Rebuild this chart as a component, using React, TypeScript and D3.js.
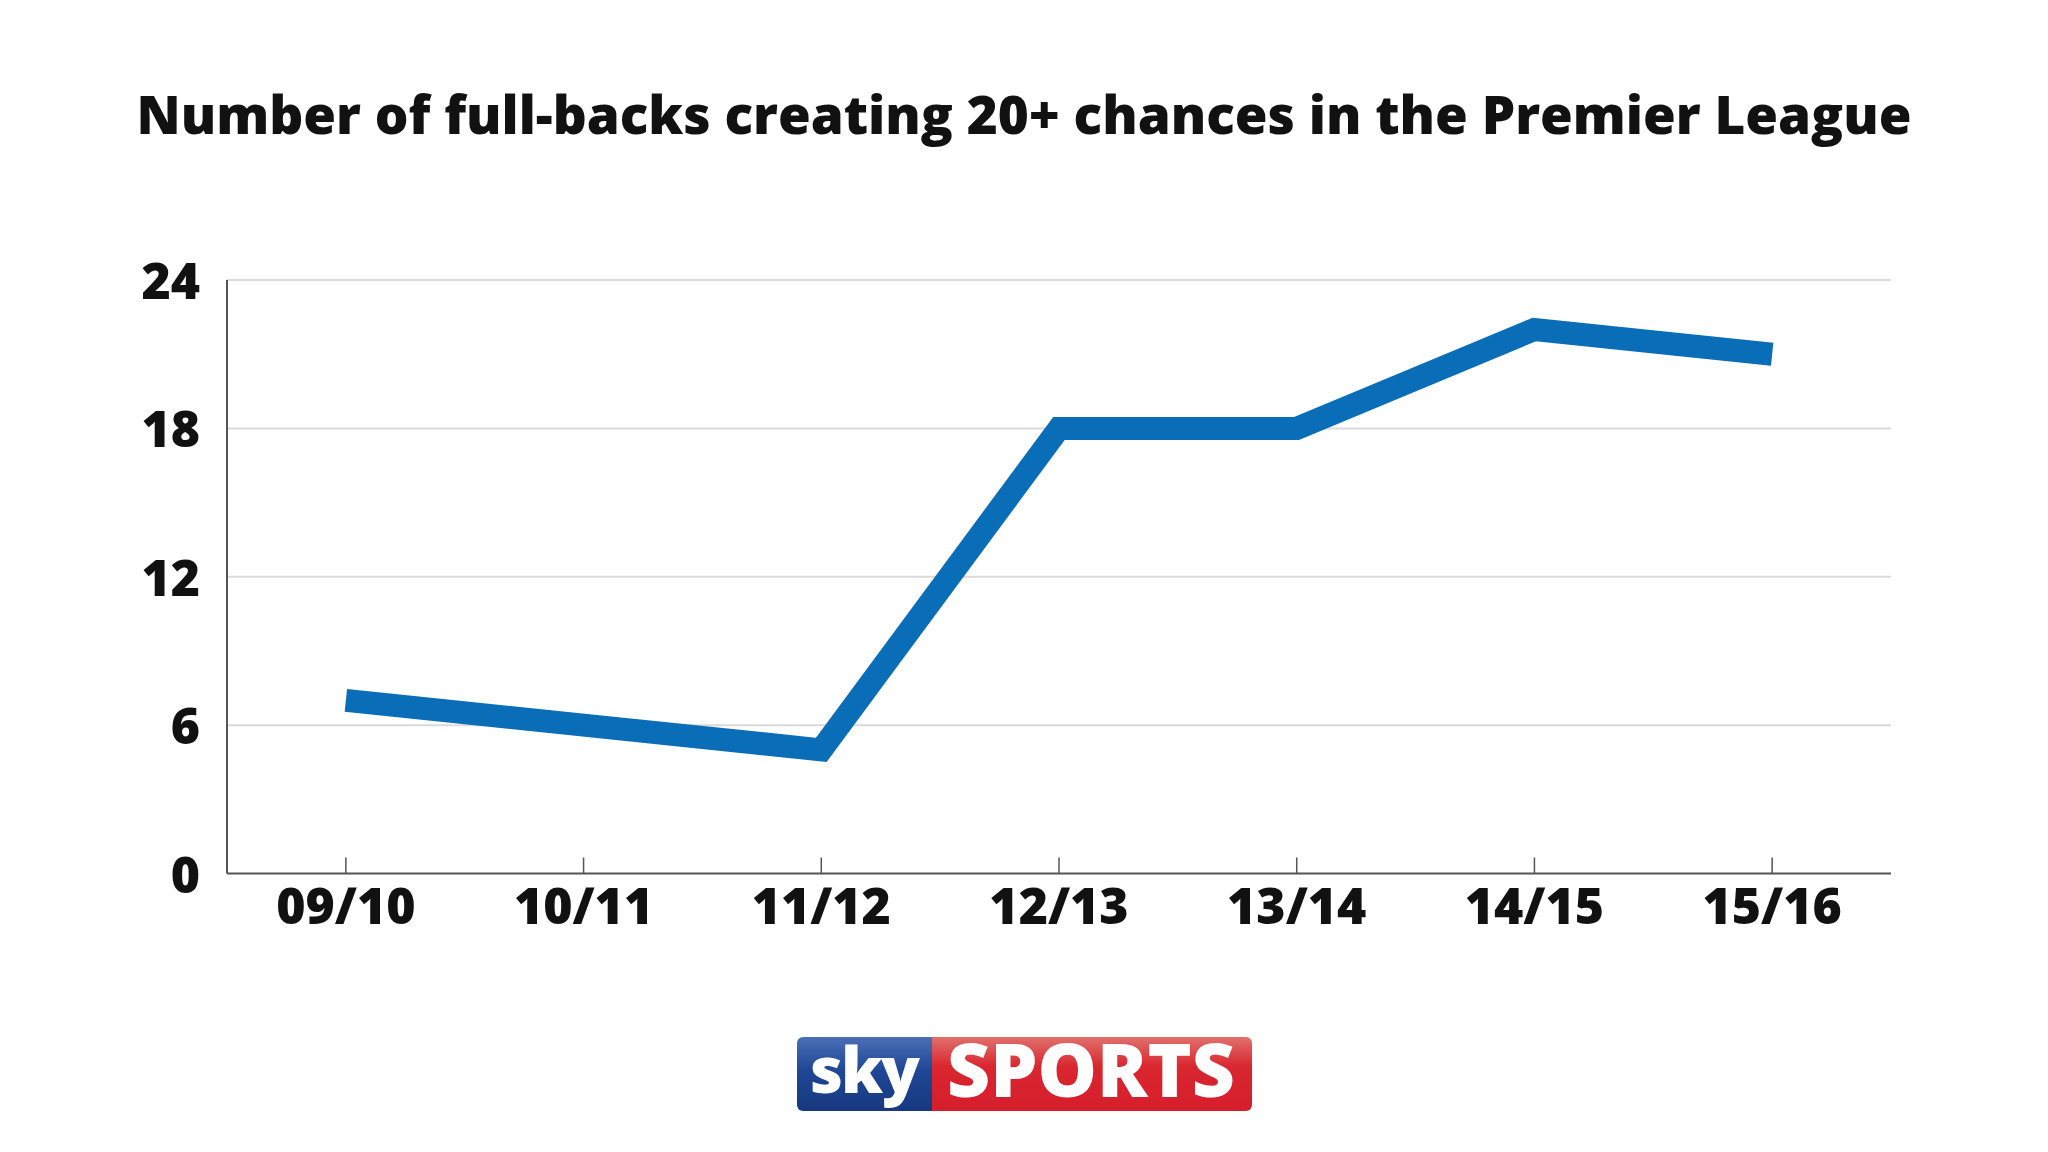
import React, { useEffect, useRef } from "react";
import * as d3 from "d3";

const seasons = ["09/10", "10/11", "11/12", "12/13", "13/14", "14/15", "15/16"];
const fullBacks = [7, 6, 5, 18, 18, 22, 21];
const yTicks = [0, 6, 12, 18, 24];
const titleText = "Number of full-backs creating 20+ chances in the Premier League";

const W = 2048;
const H = 1152;

function fitText(sel: d3.Selection<SVGTextElement, unknown, null, undefined>, base: number, target: number) {
  const node = sel.node();
  if (!node) return;
  const len = node.getComputedTextLength();
  if (len > 0) sel.attr("font-size", (base * target) / len);
}

export default function App() {
  const ref = useRef<SVGSVGElement | null>(null);

  useEffect(() => {
    const svg = d3.select(ref.current);
    svg.selectAll("*").remove();

    const left = 227;
    const right = 1891;
    const top = 280;
    const bottom = 873.5;
    const font = "'Open Sans', 'Noto Sans', sans-serif";

    const x = d3.scalePoint<string>().domain(seasons).range([left, right]).padding(0.5);
    const y = d3.scaleLinear().domain([0, 24]).range([bottom, top]);

    svg.append("rect").attr("width", W).attr("height", H).attr("fill", "#ffffff");

    // title
    const title = svg
      .append("text")
      .attr("x", 1024)
      .attr("y", 134)
      .attr("text-anchor", "middle")
      .attr("font-family", font)
      .attr("font-weight", 800)
      .attr("font-size", 58)
      .attr("fill", "#111")
      .text(titleText) as any;
    fitText(title, 58, 1775);

    // gridlines
    svg
      .append("g")
      .selectAll("line")
      .data(yTicks.filter((t) => t !== 0))
      .join("line")
      .attr("x1", left)
      .attr("x2", right)
      .attr("y1", (d) => y(d))
      .attr("y2", (d) => y(d))
      .attr("stroke", "#dadada")
      .attr("stroke-width", 2);

    // y labels
    svg
      .append("g")
      .selectAll("text")
      .data(yTicks)
      .join("text")
      .attr("x", 200)
      .attr("y", (d) => y(d) + 19)
      .attr("text-anchor", "end")
      .attr("font-family", font)
      .attr("font-weight", 800)
      .attr("font-size", 50)
      .attr("fill", "#111")
      .text((d) => String(d));

    // axes
    svg
      .append("line")
      .attr("x1", left)
      .attr("x2", left)
      .attr("y1", top)
      .attr("y2", bottom)
      .attr("stroke", "#555")
      .attr("stroke-width", 2);
    svg
      .append("line")
      .attr("x1", left)
      .attr("x2", right)
      .attr("y1", bottom)
      .attr("y2", bottom)
      .attr("stroke", "#555")
      .attr("stroke-width", 2);

    // x ticks
    svg
      .append("g")
      .selectAll("line")
      .data(seasons)
      .join("line")
      .attr("x1", (d) => x(d)!)
      .attr("x2", (d) => x(d)!)
      .attr("y1", bottom)
      .attr("y2", bottom - 16)
      .attr("stroke", "#555")
      .attr("stroke-width", 1.5);

    // x labels
    svg
      .append("g")
      .selectAll("text")
      .data(seasons)
      .join("text")
      .attr("x", (d) => x(d)!)
      .attr("y", 924)
      .attr("text-anchor", "middle")
      .attr("font-family", font)
      .attr("font-weight", 800)
      .attr("font-size", 50)
      .attr("fill", "#111")
      .text((d) => d);

    // line
    const line = d3
      .line<number>()
      .x((_, i) => x(seasons[i])!)
      .y((d) => y(d));
    svg
      .append("path")
      .datum(fullBacks)
      .attr("d", line)
      .attr("fill", "none")
      .attr("stroke", "#0a6db8")
      .attr("stroke-width", 23)
      .attr("stroke-linejoin", "miter")
      .attr("stroke-linecap", "butt");

    // logo
    const defs = svg.append("defs");
    const gb = defs.append("linearGradient").attr("id", "gBlue").attr("x1", 0).attr("x2", 0).attr("y1", 0).attr("y2", 1);
    gb.append("stop").attr("offset", "0%").attr("stop-color", "#4a6fb5");
    gb.append("stop").attr("offset", "45%").attr("stop-color", "#1f4796");
    gb.append("stop").attr("offset", "100%").attr("stop-color", "#17387f");
    const gr = defs.append("linearGradient").attr("id", "gRed").attr("x1", 0).attr("x2", 0).attr("y1", 0).attr("y2", 1);
    gr.append("stop").attr("offset", "0%").attr("stop-color", "#e0706c");
    gr.append("stop").attr("offset", "40%").attr("stop-color", "#d9262f");
    gr.append("stop").attr("offset", "100%").attr("stop-color", "#d61e2c");
    defs
      .append("clipPath")
      .attr("id", "logoClip")
      .append("rect")
      .attr("x", 797)
      .attr("y", 1037)
      .attr("width", 455)
      .attr("height", 74)
      .attr("rx", 6);
    const logo = svg.append("g").attr("clip-path", "url(#logoClip)");
    logo.append("rect").attr("x", 797).attr("y", 1037).attr("width", 135).attr("height", 74).attr("fill", "url(#gBlue)");
    logo.append("rect").attr("x", 932).attr("y", 1037).attr("width", 320).attr("height", 74).attr("fill", "url(#gRed)");
    const sky = svg
      .append("text")
      .attr("x", 864)
      .attr("y", 1093)
      .attr("text-anchor", "middle")
      .attr("font-family", font)
      .attr("font-weight", 800)
      .attr("font-size", 64)
      .attr("letter-spacing", -2)
      .attr("fill", "#fff")
      .text("sky") as any;
    fitText(sky, 64, 108);
    const sports = svg
      .append("text")
      .attr("x", 1091)
      .attr("y", 1097)
      .attr("text-anchor", "middle")
      .attr("font-family", font)
      .attr("font-weight", 800)
      .attr("font-size", 62)
      .attr("fill", "#fff")
      .text("SPORTS") as any;
    fitText(sports, 62, 288);
  }, []);

  return (
    <svg
      ref={ref}
      width={W}
      height={H}
      style={{ position: "absolute", left: 0, top: 0, display: "block" }}
    />
  );
}
